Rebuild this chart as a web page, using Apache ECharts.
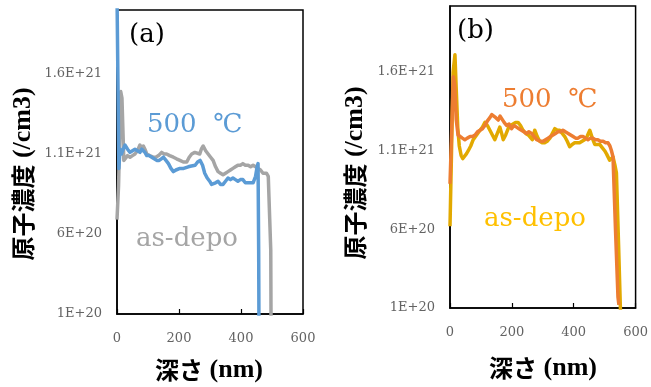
<!DOCTYPE html>
<html>
<head>
<meta charset="utf-8">
<script src="https://cdn.jsdelivr.net/npm/echarts@6/dist/echarts.min.js"></script>
<style>
  html, body { margin: 0; padding: 0; background: #fff; }
  #chart { width: 651px; height: 387px; }
</style>
</head>
<body>
<div id="chart"></div>
<script>
// Depth profiles: depth in nm, concentration in units of 1E+20 /cm3
const depthAsDepoA = [0, 5, 12, 16, 22, 26, 34, 42, 50, 58, 66, 74, 80, 85, 90, 96, 105, 117, 125, 134, 144, 152, 160, 170, 182, 192, 203, 214, 225, 233, 241, 251, 257, 267, 272, 278, 286, 294, 302, 310, 318, 326, 334, 342, 350, 358, 366, 374, 382, 390, 398, 406, 414, 423, 431, 439, 447, 455, 463, 471, 482, 488, 493, 496, 497];
const concAsDepoA  = [6.9, 9.0, 14.9, 14.5, 10.6, 10.6, 10.9, 10.8, 10.9, 11.0, 11.2, 11.56, 11.3, 11.5, 11.3, 11.0, 10.9, 10.8, 10.8, 10.9, 11.1, 11.0, 11.0, 10.9, 10.8, 10.7, 10.6, 10.5, 10.5, 10.8, 11.0, 11.1, 11.0, 11.0, 11.3, 11.5, 11.2, 11.0, 10.8, 10.6, 10.2, 9.9, 9.8, 9.7, 9.8, 9.9, 10.0, 10.1, 10.2, 10.3, 10.3, 10.4, 10.3, 10.3, 10.2, 10.3, 10.2, 10.1, 10.0, 9.8, 9.8, 9.6, 9.5, 5, 0];

const depth500A = [0, 6, 10, 14, 20, 26, 34, 42, 50, 58, 66, 74, 80, 85, 90, 96, 104, 112, 120, 128, 136, 143, 150, 158, 166, 174, 182, 190, 203, 215, 230, 240, 252, 260, 268, 276, 283, 291, 299, 305, 310, 318, 326, 334, 342, 350, 358, 366, 374, 382, 390, 398, 406, 414, 423, 431, 439, 447, 452, 455, 457, 458];
const conc500A  = [21, 10.1, 11.3, 11.0, 11.3, 11.56, 11.3, 11.1, 11.2, 11.3, 11.2, 11.1, 11.3, 11.4, 11.1, 10.9, 10.9, 10.8, 10.7, 10.6, 10.6, 10.7, 10.8, 10.6, 10.4, 10.1, 9.9, 10.0, 10.1, 10.1, 10.2, 10.25, 10.3, 10.5, 10.6, 10.3, 9.8, 9.5, 9.3, 9.1, 9.0, 9.2, 9.3, 9.1, 9.1, 9.3, 9.5, 9.4, 9.5, 9.4, 9.3, 9.4, 9.4, 9.2, 9.2, 9.2, 9.2, 9.6, 10.2, 10.4, 5, 0];

const depthAsDepoB = [0, 5, 10, 16, 20, 25, 30, 36, 41, 47, 53, 59, 67, 75, 86, 97, 105, 113, 121, 129, 137, 145, 153, 161, 167, 172, 180, 188, 196, 204, 212, 220, 228, 236, 245, 253, 258, 266, 274, 282, 290, 298, 306, 314, 323, 331, 339, 347, 355, 363, 371, 379, 387, 395, 403, 411, 419, 427, 435, 443, 452, 460, 468, 476, 484, 492, 500, 506, 511, 516, 522, 527, 533, 538, 545, 551, 553];
const concAsDepoB  = [6.2, 11, 16, 17.1, 15, 12.5, 11.3, 10.7, 10.5, 10.6, 10.8, 11.0, 11.3, 11.7, 12.0, 12.3, 12.5, 12.8, 12.6, 12.3, 12.0, 11.7, 12.1, 12.5, 12.1, 11.7, 12.0, 12.4, 12.6, 12.7, 12.8, 12.8, 12.6, 12.3, 12.1, 12.0, 11.9, 11.7, 12.3, 11.9, 11.6, 11.5, 11.5, 11.6, 11.8, 12.1, 12.4, 12.3, 12.3, 12.1, 11.9, 11.6, 11.25, 11.4, 11.5, 11.5, 11.5, 11.6, 11.7, 11.9, 12.3, 11.8, 11.4, 11.4, 11.4, 11.2, 11.0, 10.8, 10.7, 10.4, 10.5, 10.6, 10.1, 9.6, 5, 0.9, 0];

const depth500B = [0, 5, 11, 15, 20, 26, 32, 40, 48, 56, 65, 73, 81, 89, 97, 105, 113, 121, 129, 135, 140, 148, 156, 162, 167, 175, 183, 191, 199, 207, 215, 223, 231, 239, 247, 255, 264, 272, 280, 285, 293, 301, 309, 317, 325, 333, 341, 349, 357, 365, 373, 382, 390, 398, 406, 414, 422, 430, 438, 446, 454, 462, 470, 478, 486, 495, 503, 511, 517, 522, 527, 535, 543, 546];
const conc500B  = [8.9, 12, 15.7, 15.2, 13, 12.0, 11.9, 11.8, 11.7, 11.8, 11.9, 11.9, 12.0, 12.2, 12.3, 12.4, 12.6, 12.9, 13.1, 13.3, 13.2, 13.1, 12.95, 13.2, 13.1, 12.8, 12.6, 12.7, 12.4, 12.6, 12.5, 12.4, 12.3, 12.2, 12.1, 12.2, 12.1, 11.9, 11.7, 11.7, 11.6, 11.6, 11.7, 11.8, 11.9, 12.0, 12.1, 12.2, 12.2, 12.3, 12.2, 12.1, 12.0, 11.9, 11.8, 11.8, 11.9, 11.9, 11.8, 11.7, 11.8, 11.8, 11.7, 11.7, 11.6, 11.6, 11.5, 11.5, 11.3, 11.0, 10.6, 6, 1.7, 1.2];

const xTicks = [0, 200, 400, 600];
const panelLabels = ['(a)', '(b)'];
const tempLabel = '500 \u00a0℃';
const asDepoLabel = 'as-depo';
const xTitle = '深さ';
const xUnit = '(nm)';
const yTitle = '原子濃度';
const yUnit = '(/cm3)';

const pair = (xs, ys) => xs.map((x, i) => [x, ys[i]]);

const tickFont = { fontFamily: 'DejaVu Serif', fontSize: 13, color: '#636363' };

function yLabel(v) {
  if (v < 10) return Math.round(v) + 'E+20';
  return (Math.round(v) / 10) + 'E+21';
}

function makeX(idx) {
  return {
    type: 'value', gridIndex: idx, min: xTicks[0], max: xTicks[xTicks.length - 1], interval: 200,
    axisLine: { show: true, lineStyle: { color: '#000', width: 1.5 } },
    axisTick: { show: true, inside: true, length: 5, lineStyle: { color: '#000', width: 1.2 } },
    splitLine: { show: false },
    axisLabel: Object.assign({ margin: 18 }, tickFont)
  };
}
function makeY(idx, max) {
  return {
    type: 'value', gridIndex: idx, min: 1, max: max, interval: 5,
    axisLine: { show: true, lineStyle: { color: '#000', width: 1.5 } },
    axisTick: { show: false },
    splitLine: { show: false },
    axisLabel: Object.assign({ margin: 15, showMaxLabel: false, formatter: yLabel }, tickFont)
  };
}
function makeLine(name, xi, data, color, z) {
  return {
    name: name, type: 'line', xAxisIndex: xi, yAxisIndex: xi, data: data,
    showSymbol: false, symbol: 'none', smooth: false, clip: true, z: z,
    lineStyle: { color: color, width: 3.5, join: 'round' }
  };
}

const titleRich = {
  c: { fontFamily: 'Noto Sans CJK JP', fontWeight: 'bold', fontSize: 24, fill: '#000', color: '#000' },
  l: { fontFamily: 'Liberation Serif', fontWeight: 'bold', fontSize: 26, fill: '#000', color: '#000' }
};
function titleText(x, y, rot, text) {
  return {
    type: 'text', x: x, y: y, rotation: rot,
    style: { text: text, rich: titleRich, align: 'center', verticalAlign: 'middle', fill: '#000' }
  };
}
function plainText(x, y, text, color, size) {
  return {
    type: 'text', x: x, y: y,
    style: { text: text, fill: color, fontFamily: 'DejaVu Serif', fontSize: size, align: 'left', verticalAlign: 'middle' }
  };
}

const chart = echarts.init(document.getElementById('chart'), null, { renderer: 'canvas' });
chart.setOption({
  animation: false,
  backgroundColor: '#fff',
  grid: [
    { left: 117, top: 10, width: 186, height: 304, show: true, borderColor: '#000', borderWidth: 1.5, containLabel: false },
    { left: 450, top: 6, width: 186, height: 302, show: true, borderColor: '#000', borderWidth: 1.5, containLabel: false }
  ],
  xAxis: [makeX(0), makeX(1)],
  yAxis: [makeY(0, 20), makeY(1, 20.2)],
  series: [
    makeLine('as-depo (a)', 0, pair(depthAsDepoA, concAsDepoA), '#A5A5A5', 2),
    makeLine('500 ℃ (a)', 0, pair(depth500A, conc500A), '#5B9BD5', 3),
    makeLine('as-depo (b)', 1, pair(depthAsDepoB, concAsDepoB), '#E2A900', 2),
    makeLine('500 ℃ (b)', 1, pair(depth500B, conc500B), '#ED7D31', 3)
  ],
  graphic: [
    plainText(129, 35, panelLabels[0], '#000', 26),
    plainText(457, 31, panelLabels[1], '#000', 26),
    plainText(147, 125, tempLabel, '#5B9BD5', 26),
    plainText(136, 239, asDepoLabel, '#A5A5A5', 26),
    plainText(502, 100, tempLabel, '#ED7D31', 26),
    plainText(484, 219, asDepoLabel, '#FFC000', 26),
    titleText(209, 370, 0, '{c|' + xTitle + '}{l| ' + xUnit + '}'),
    titleText(543, 368, 0, '{c|' + xTitle + '}{l| ' + xUnit + '}'),
    titleText(23, 174, Math.PI / 2, '{c|' + yTitle + '}{l| ' + yUnit + '}'),
    titleText(355, 173, Math.PI / 2, '{c|' + yTitle + '}{l| ' + yUnit + '}')
  ]
});
</script>
</body>
</html>
